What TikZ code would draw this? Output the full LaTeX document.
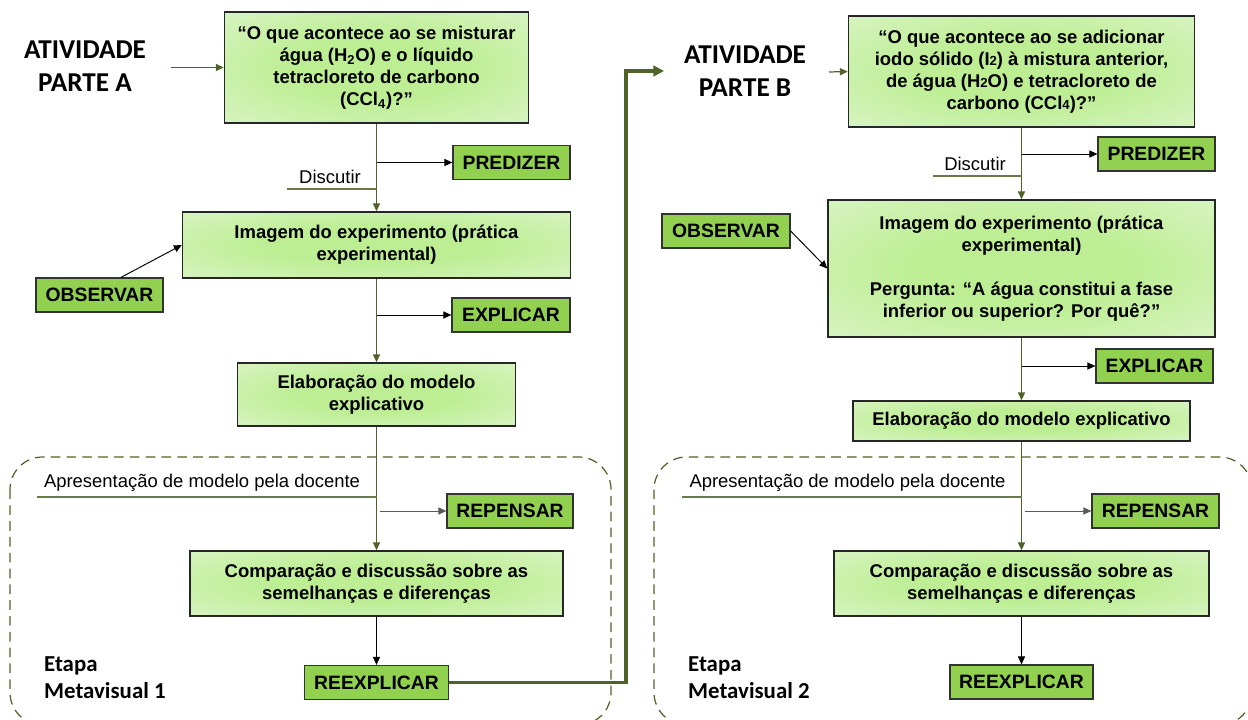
\documentclass[tikz,border=0pt]{standalone}
\usepackage{fontspec}
\setmainfont{Liberation Sans}
\newfontfamily\titlefont{Carlito}
\usetikzlibrary{arrows.meta, positioning, calc}
\definecolor{flowgreen}{HTML}{4F6228}
\definecolor{stepfill}{HTML}{92D050}
\definecolor{boxin}{HTML}{BDEE94}
\definecolor{boxmid}{HTML}{D3F3BA}
\definecolor{boxout}{HTML}{EAF8E2}
\pgfdeclareradialshading{boxglow}{\pgfpoint{0bp}{0bp}}{color(0bp)=(boxin); color(14bp)=(boxin); color(32bp)=(boxmid); color(56bp)=(boxout); color(75bp)=(boxout)}
\newcommand{\smalldig}[1]{{\fontsize{7.5}{7.5}\selectfont #1}}

\begin{document}
\begin{tikzpicture}[
  question/.style={rectangle, draw=black!85, line width=0.8pt, shading=boxglow, align=center, font=\bfseries\fontsize{10.5}{12.6}\selectfont},
  actbox/.style={rectangle, draw=black!80, line width=0.7pt, fill=stepfill, minimum height=0.68cm, font=\bfseries\fontsize{11}{13}\selectfont},
  partlabel/.style={align=center, font=\titlefont\bfseries\fontsize{15.5}{18.5}\selectfont},
  etapa/.style={anchor=west, align=left, font=\titlefont\bfseries\fontsize{13}{15.5}\selectfont},
  remark/.style={font=\fontsize{10.5}{12.6}\selectfont},
  flow/.style={-{Triangle[length=4.5pt,width=4pt]}, draw=flowgreen, line width=0.7pt},
  branch/.style={-{Triangle[length=4.5pt,width=4pt]}, draw=black, line width=0.55pt},
  uline/.style={draw=flowgreen!85, line width=0.6pt},
  stage/.style={draw=flowgreen, line width=0.7pt, dash pattern=on 5.5pt off 3.5pt, rounded corners=0.65cm},
  link/.style={-{Triangle[length=6pt,width=6pt]}, draw=flowgreen, line width=2pt}
]
  \useasboundingbox (0,0) rectangle (24.96,-14.4);

  % Stage frames
  \draw[stage] (0.2,-9.14) rectangle (12.22,-14.5);
  \draw[stage] (13.08,-9.14) rectangle (25.04,-14.5);

  % Part A
  \node[partlabel] (atvA) at (1.7,-1.32) {ATIVIDADE\\PARTE A};
  \node[question, minimum width=6.08cm, minimum height=2.22cm] (q1) at (7.53,-1.35)
    {“O que acontece ao se misturar\\água (H\textsubscript{2}O) e o líquido\\tetracloreto de carbono\\(CCl\textsubscript{4})?”};
  \node[actbox, minimum width=2.34cm] (pred1) at (10.23,-3.25) {PREDIZER};
  \node[remark] (disc1) at (6.6,-3.54) {Discutir};
  \node[question, minimum width=7.76cm, minimum height=1.32cm] (img1) at (7.53,-4.9)
    {Imagem do experimento (prática\\experimental)};
  \node[actbox, minimum width=2.54cm] (obs1) at (1.99,-5.9) {OBSERVAR};
  \node[actbox, minimum width=2.36cm] (expl1) at (10.22,-6.3) {EXPLICAR};
  \node[question, minimum width=5.56cm, minimum height=1.26cm] (elab1) at (7.53,-7.89)
    {Elaboração do modelo\\explicativo};
  \node[remark] (apres1) at (4.04,-9.66) {Apresentação de modelo pela docente};
  \node[actbox, minimum width=2.52cm] (repen1) at (10.2,-10.22) {REPENSAR};
  \node[question, minimum width=7.46cm, minimum height=1.3cm] (comp1) at (7.53,-11.67)
    {Comparação e discussão sobre as\\semelhanças e diferenças};
  \node[actbox, minimum width=2.88cm] (reexp1) at (7.53,-13.65) {REEXPLICAR};
  \node[etapa] (etapa1) at (0.76,-13.56) {Etapa\\Metavisual 1};

  % Part B
  \node[partlabel] (atvB) at (14.9,-1.42) {ATIVIDADE\\PARTE B};
  \node[question, minimum width=6.92cm, minimum height=2.22cm] (q2) at (20.43,-1.43)
    {“O que acontece ao se adicionar\\iodo sólido (I\smalldig{2}) à mistura anterior,\\de água (H\smalldig{2}O) e tetracloreto de\\carbono (CCl\smalldig{4})?”};
  \node[actbox, minimum width=2.34cm] (pred2) at (23.13,-3.08) {PREDIZER};
  \node[remark] (disc2) at (19.5,-3.28) {Discutir};
  \node[question, minimum width=7.74cm, minimum height=2.74cm] (img2) at (20.43,-5.37)
    {Imagem do experimento (prática\\experimental)\\[12.6pt]Pergunta: “A água constitui a fase\\inferior ou superior? Por quê?”};
  \node[actbox, minimum width=2.56cm] (obs2) at (14.52,-4.62) {OBSERVAR};
  \node[actbox, minimum width=2.34cm] (expl2) at (23.09,-7.32) {EXPLICAR};
  \node[question, minimum width=6.74cm, minimum height=0.8cm] (elab2) at (20.43,-8.42)
    {Elaboração do modelo explicativo};
  \node[remark] (apres2) at (16.95,-9.66) {Apresentação de modelo pela docente};
  \node[actbox, minimum width=2.54cm] (repen2) at (23.11,-10.22) {REPENSAR};
  \node[question, minimum width=7.5cm, minimum height=1.3cm] (comp2) at (20.43,-11.67)
    {Comparação e discussão sobre as\\semelhanças e diferenças};
  \node[actbox, minimum width=2.86cm] (reexp2) at (20.43,-13.64) {REEXPLICAR};
  \node[etapa] (etapa2) at (13.64,-13.56) {Etapa\\Metavisual 2};

  % Free ends
  \coordinate (inA) at (3.42,-1.35);
  \coordinate (inB) at (16.58,-1.44);
  \coordinate (disc1l) at (5.74,-3.78);
  \coordinate (disc2l) at (18.66,-3.52);
  \coordinate (apres1l) at (0.74,-9.94);
  \coordinate (apres2l) at (13.64,-9.94);
  \coordinate (turn) at (12.52,-1.42);
  \coordinate (linkB) at (13.28,-1.42);

  % Flow A
  \draw[flow] (inA) -- (q1.west);
  \draw[flow] (q1.south) -- (img1.north);
  \draw[flow] (img1.south) -- (elab1.north);
  \draw[flow] (elab1.south) -- (comp1.north);
  \draw[branch] (comp1.south) -- (reexp1.north);
  \draw[branch] (q1.south |- pred1) -- (pred1.west);
  \draw[branch] (img1.south |- expl1) -- (expl1.west);
  \draw[branch, draw=black!65] ([xshift=0.06cm]elab1.south |- repen1) -- (repen1.west);
  \draw[branch] ([xshift=0.43cm]obs1.north) -- (img1.west);
  \draw[uline] (disc1l) -- (disc1l -| q1.south);
  \draw[uline] (apres1l) -- (apres1l -| elab1.south);

  % Link A to B
  \draw[link] (reexp1.east) -| (turn) -- (linkB);

  % Flow B
  \draw[flow] (inB) -- (q2.west);
  \draw[flow] (q2.south) -- (img2.north);
  \draw[flow] (img2.south) -- (elab2.north);
  \draw[flow] (elab2.south) -- (comp2.north);
  \draw[branch] (comp2.south) -- (reexp2.north);
  \draw[branch] (q2.south |- pred2) -- (pred2.west);
  \draw[branch] (img2.south |- expl2) -- (expl2.west);
  \draw[branch, draw=black!65] ([xshift=0.06cm]elab2.south |- repen2) -- (repen2.west);
  \draw[branch] (obs2.east) -- (img2.west);
  \draw[uline] (disc2l) -- (disc2l -| q2.south);
  \draw[uline] (apres2l) -- (apres2l -| elab2.south);
\end{tikzpicture}
\end{document}
